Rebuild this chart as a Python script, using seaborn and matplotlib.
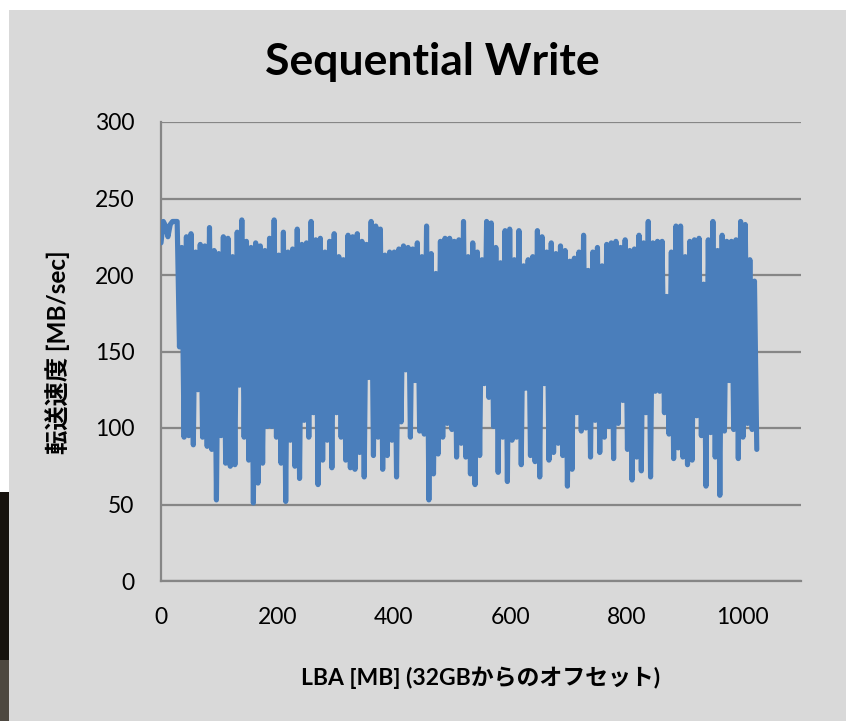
import numpy as np
import pandas as pd
import matplotlib
matplotlib.use("Agg")
import matplotlib.pyplot as plt
from matplotlib.patches import Rectangle
import seaborn as sns

# ---- data (MB/sec) ----
flat_start = [221, 235, 232, 225, 233, 235, 235, 235, 153]
seg1 = [218, 94, 225, 95, 227, 89, 215, 125, 220, 94, 219, 88, 231, 86, 216, 53,
        214, 95, 225, 77, 224, 75, 212, 76, 228, 128, 236, 94, 222, 79, 218, 51,
        221, 64, 219, 77, 216, 101, 224, 101, 236, 94, 213, 77, 228, 52, 215, 92,
        217, 75, 230, 67, 220, 105, 221, 94]
seg2 = [235, 110, 223, 63, 224, 79, 215, 92, 222, 74, 227, 110, 212, 94, 210, 79,
        226, 74, 225, 73, 227, 84, 222, 68, 220, 133, 235, 82, 232, 94, 230, 73,
        213, 82, 215, 92, 215, 68, 217, 104, 219, 138, 218, 94, 217, 131, 221, 98,
        212, 96, 232, 53, 214, 70, 201, 83, 222, 94, 224, 103, 224, 99, 222, 81]
seg3 = [223, 90, 235, 81, 212, 70, 221, 63, 215, 82, 210, 129, 235, 120, 234, 101,
        218, 71, 208, 94, 229, 65, 230, 92, 210, 94, 229, 76, 206, 126, 210, 82,
        212, 78, 229, 68, 225, 129, 215, 79, 221, 84, 214, 90, 219, 82, 216, 62,
        209, 73, 211, 110, 215, 98, 226, 100, 203, 81, 215, 105, 218, 84, 206, 94,
        220, 101]
seg4 = [221, 80, 222, 103, 218, 118, 223, 86, 216, 66, 217, 81, 226, 72, 221, 110,
        235, 68, 221, 124, 222, 124, 222, 110, 186, 96, 215, 80, 232, 87, 232, 81,
        212, 76, 222, 79, 223, 108, 224, 95, 194, 62, 223, 97, 235, 81, 216, 56,
        226, 98, 222, 131, 222, 99, 223, 80, 235, 94, 233, 103, 210, 99, 196, 86]

speed = flat_start + seg1 + seg2 + seg3 + seg4
lba_end = 1024
x_ticks = [0, 200, 400, 600, 800, 1000]
y_ticks = [0, 50, 100, 150, 200, 250, 300]

title = "Sequential Write"
xlabel = "LBA [MB] (32GBからのオフセット)"
ylabel = "転送速度 [MB/sec]"

df = pd.DataFrame({"lba": np.linspace(0, lba_end, len(speed)), "speed": speed})

# ---- style ----
sns.set_theme(style="white")
latin = ["Lato", "Noto Sans CJK JP", "DejaVu Sans"]
plt.rcParams["font.family"] = latin
plt.rcParams["text.color"] = "black"

W, H = 846, 721
fig = plt.figure(figsize=(W / 100, H / 100), dpi=100, facecolor="white")
bg = "#d9d9d9"
grid_c = "#868686"

# chart panel background
fig.patches.append(Rectangle((9 / W, 0), 1 - 9 / W, 1 - 10 / H, transform=fig.transFigure,
                             facecolor=bg, edgecolor="none", zorder=-10))
# dark strip on the left edge (photo border)
fig.patches.append(Rectangle((0, 0), 9 / W, 1 - 492 / H, transform=fig.transFigure,
                             facecolor="#17130e", edgecolor="none", zorder=-10))
fig.patches.append(Rectangle((0, 0), 9 / W, 1 - 660 / H, transform=fig.transFigure,
                             facecolor="#4d4840", edgecolor="none", zorder=-9))

left, right, top, bottom = 161, 801, 122, 581
ax = fig.add_axes([left / W, 1 - bottom / H, (right - left) / W, (bottom - top) / H])
ax.set_facecolor("none")

sns.lineplot(data=df, x="lba", y="speed", ax=ax, color="#4a7ebb", linewidth=3.7,
             solid_capstyle="round", solid_joinstyle="round", zorder=3)

ax.set_xlim(0, 1100)
ax.set_ylim(0, 300)
ax.set_xticks(x_ticks)
ax.set_yticks(y_ticks)
ax.set_xticklabels([str(v) for v in x_ticks])
ax.set_yticklabels([str(v) for v in y_ticks])
ax.yaxis.grid(True, color=grid_c, linewidth=1.6, zorder=1)
ax.xaxis.grid(False)
for s in ["top", "right"]:
    ax.spines[s].set_visible(False)
for s in ["left", "bottom"]:
    ax.spines[s].set_color(grid_c)
    ax.spines[s].set_linewidth(1.6)
ax.tick_params(axis="both", direction="out", length=6, width=1.5, color=grid_c,
               labelsize=16.5, labelcolor="black")
ax.tick_params(axis="y", pad=13)
ax.tick_params(axis="x", pad=13)
ax.set_xlabel("")
ax.set_ylabel("")

fig.text(432 / W, 1 - 62 / H, title, ha="center", va="center", fontsize=32,
         fontweight="bold", family=latin, color="black")
fig.text(481 / W, 1 - 678 / H, xlabel, ha="center", va="center", fontsize=16.5,
         fontweight="bold", family=latin, color="black")
fig.text(58 / W, 1 - 352 / H, ylabel, ha="center", va="center", fontsize=17.5,
         fontweight="bold", rotation=90, family=latin, color="black")

fig.savefig("out.png", dpi=100, facecolor="white")
